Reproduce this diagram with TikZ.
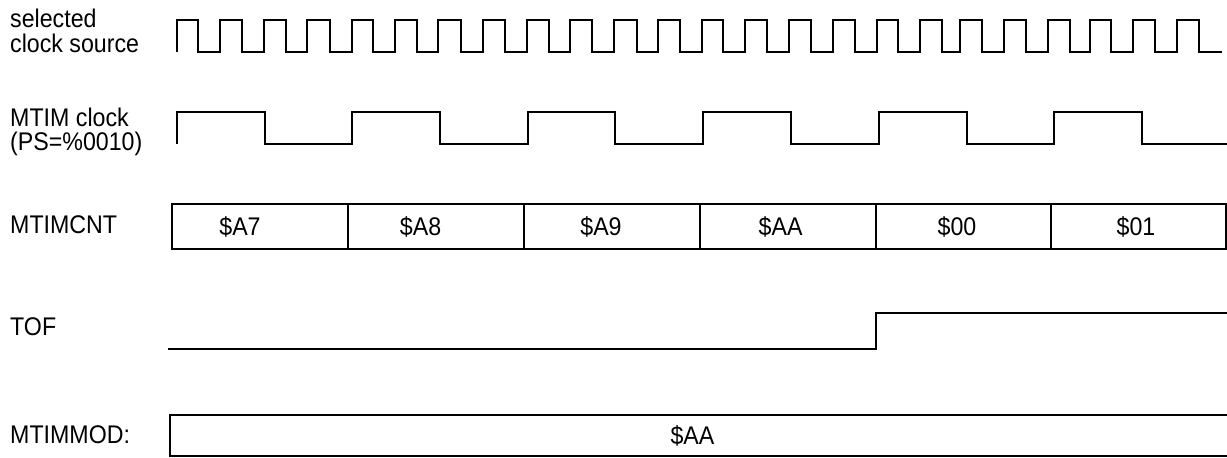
\documentclass[tikz,border=0pt]{standalone}
\usepackage{graphicx}
\usepackage{fontspec}
\setmainfont{Liberation Sans}
\newcommand\tallt[1]{\scalebox{1}[1.1]{#1}}
\begin{document}
\begin{tikzpicture}[x=1pt,y=-1pt,
  lbl/.style={anchor=base west, inner sep=0pt, font=\fontsize{23.2}{23.5}\selectfont},
  val/.style={anchor=base, inner sep=0pt, font=\fontsize{23.2}{23.5}\selectfont},
  wave/.style={line width=2pt, line join=miter, line cap=butt},
  regbox/.style={line width=2pt}]
\useasboundingbox (0,0) rectangle (1227,458);
\clip (0,0) rectangle (1227,458);
\fill[white] (0,0) rectangle (1227,458);

% labels
\node[lbl] (lsel1) at (10,27.5) {\tallt{selected}};
\node[lbl] (lsel2) at (10,52) {\tallt{clock source}};
\node[lbl] (lmt1) at (10,126.7) {\tallt{MTIM clock}};
\node[lbl] (lmt2) at (10,150.5) {\tallt{(PS=\%0010)}};
\node[lbl] (lcnt) at (10,233.3) {\tallt{MTIMCNT}};
\node[lbl] (ltof) at (10,335) {\tallt{TOF}};
\node[lbl] (lmod) at (10,443.5) {\tallt{MTIMMOD:}};

% selected clock source
\draw[wave] (176.7,51.5)
  \foreach \r/\f in {176.7/198.3, 220/242.3, 264/286, 307.3/330, 351.7/373.3,
     395/416.7, 438.3/461, 482.7/505, 526.7/549, 570/592.3, 614/636.7,
     657.7/680, 701.7/723.3, 745/767.3, 789/811, 833.3/855, 876.7/898.3,
     920.3/942, 960.3/982, 1003.6/1025.5, 1048/1069.6, 1090/1111.3,
     1133/1155, 1177/1199} {
     -- (\r,51.5) -- (\r,20) -- (\f,20) -- (\f,51.5) }
  -- (1221.7,51.5);

% MTIM clock
\draw[wave] (176.7,144)
  \foreach \r/\f in {176.7/265, 351.7/440, 528.3/615, 702.7/790.7,
     879/966.7, 1054.3/1142.3} {
     -- (\r,144) -- (\r,112.3) -- (\f,112.3) -- (\f,144) }
  -- (1230,144);

% MTIMCNT register
\draw[regbox] (171.7,204.3) rectangle (1226,249.3);
\foreach \x in {347.7, 524, 700, 875.5, 1051}
  \draw[regbox] (\x,204.3) -- (\x,249.3);
\node[val] (c1) at (240,235) {\tallt{\$A7}};
\node[val] (c2) at (420.6,235) {\tallt{\$A8}};
\node[val] (c3) at (601,235) {\tallt{\$A9}};
\node[val] (c4) at (780.6,235) {\tallt{\$AA}};
\node[val] (c5) at (957,235) {\tallt{\$00}};
\node[val] (c6) at (1136,235) {\tallt{\$01}};

% TOF
\draw[wave] (168,349.3) -- (876.4,349.3) -- (876.4,313.3) -- (1230,313.3);

% MTIMMOD register
\draw[regbox] (1240,415) -- (170,415) -- (170,456) -- (1240,456);
\node[val] (m1) at (692.5,444) {\tallt{\$AA}};
\end{tikzpicture}
\end{document}
